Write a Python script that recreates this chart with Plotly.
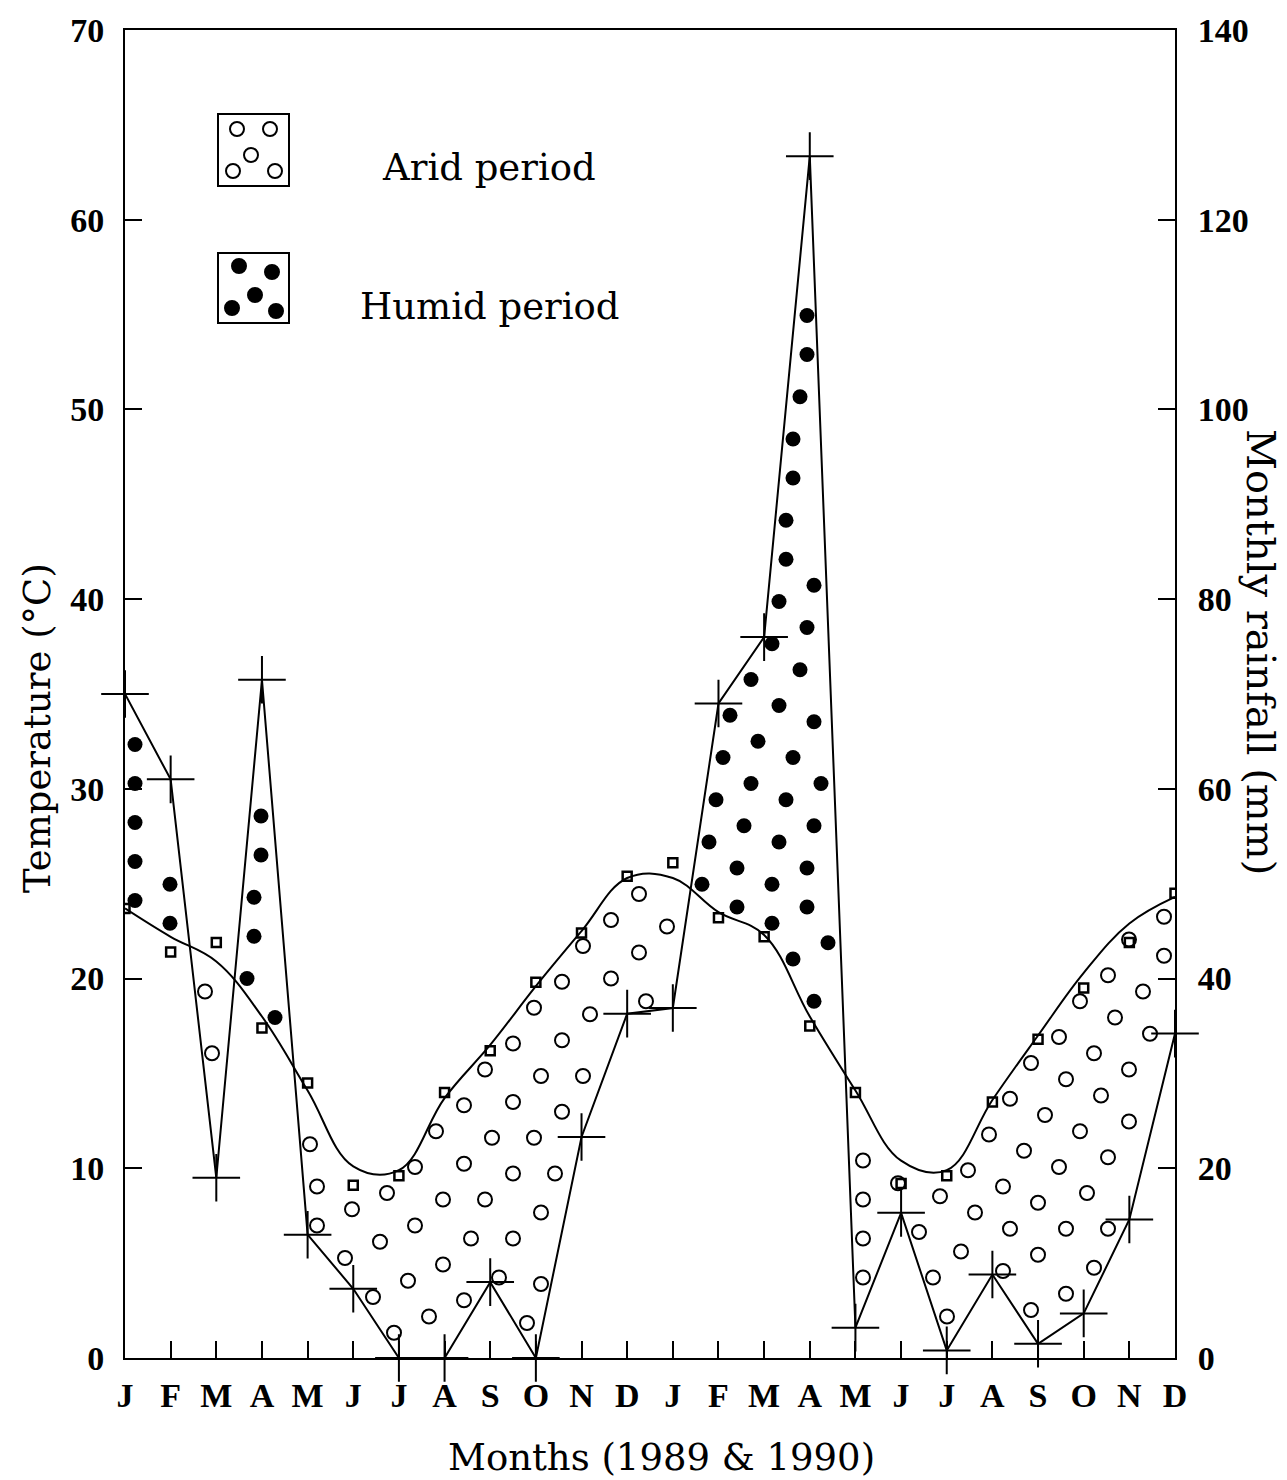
import numpy as np
import plotly.graph_objects as go

# ---------------- data ----------------
months = ["J", "F", "M", "A", "M", "J", "J", "A", "S", "O", "N", "D"] * 2
# monthly mean temperature (deg C), square markers
temp_obs = [23.7, 21.4, 21.9, 17.4, 14.5, 9.1, 9.6, 14.0, 16.2, 19.8, 22.4, 25.4,
            26.1, 23.2, 22.2, 17.5, 14.0, 9.2, 9.6, 13.5, 16.8, 19.5, 21.9, 24.5]
# smoothed temperature curve (deg C) as drawn
temp_curve = [23.7, 22.2, 20.9, 18.0, 14.1, 10.1, 9.9, 13.7, 16.5, 19.6, 22.5, 25.3,
              25.3, 23.5, 22.3, 18.0, 14.1, 10.4, 9.9, 13.6, 17.0, 20.3, 22.9, 24.3]
# monthly rainfall (mm), cross markers
rain = [70.0, 61.0, 19.0, 71.5, 13.0, 7.3, 0.0, 0.0, 8.0, 0.0, 23.3, 36.3,
        36.9, 69.0, 76.0, 126.7, 3.2, 15.3, 0.8, 8.8, 1.5, 4.7, 14.6, 34.2]
temp_ticks = [0, 10, 20, 30, 40, 50, 60, 70]
rain_ticks = [0, 20, 40, 60, 80, 100, 120, 140]

# ---------------- layout geometry ----------------
W, H = 1287, 1480
ML, MR, MT, MB = 125, 112, 30, 122
PW, PH = W - ML - MR, H - MT - MB
xi = np.arange(len(months))
PXX = PW / (len(months) - 1)   # px per month
PXY = PH / 70.0                # px per deg C


def catmull(vals, n=30):
    v = np.asarray(vals, float)
    p = np.concatenate([[2 * v[0] - v[1]], v, [2 * v[-1] - v[-2]]])
    xs, ys = [], []
    for i in range(len(v) - 1):
        p0, p1, p2, p3 = p[i], p[i + 1], p[i + 2], p[i + 3]
        t = np.linspace(0, 1, n, endpoint=False)
        y = 0.5 * ((2 * p1) + (-p0 + p2) * t + (2 * p0 - 5 * p1 + 4 * p2 - p3) * t ** 2
                   + (-p0 + 3 * p1 - 3 * p2 + p3) * t ** 3)
        xs.append(i + t)
        ys.append(y)
    xs.append([len(v) - 1])
    ys.append([v[-1]])
    return np.concatenate(xs), np.concatenate(ys)


# dense boundaries (used only to place the hatching dots between the curves)
cx, cy = catmull(temp_curve)
rx = np.linspace(0, len(months) - 1, 3000)
ry = np.interp(rx, xi, np.asarray(rain) / 2.0)
tpx = np.c_[cx * PXX, cy * PXY]
rpx = np.c_[rx * PXX, ry * PXY]

arid_x, arid_y, hum_x, hum_y = [], [], [], []
accepted = []
SPACING = 37.0
EDGE = 9.5
step_x, step_y = 7.0, 6.5
k = 0
for xp in np.arange(10, PW - 9, step_x):
    x = xp / PXX
    t = np.interp(x, cx, cy)
    r = np.interp(x, xi, np.asarray(rain) / 2.0)
    lo, hi = min(t, r), max(t, r)
    off = (k % 2) * step_y / 2
    k += 1
    for yp in np.arange(9 + off, PH, step_y):
        y = yp / PXY
        if not (lo < y < hi):
            continue
        p = np.array([xp, yp])
        if np.min(np.hypot(*(tpx - p).T)) < EDGE or np.min(np.hypot(*(rpx - p).T)) < EDGE:
            continue
        if accepted:
            a = np.asarray(accepted)
            if np.min(np.hypot(*(a - p).T)) < SPACING:
                continue
        accepted.append((xp, yp))
        if r > t:
            hum_x.append(x); hum_y.append(y)
        else:
            arid_x.append(x); arid_y.append(y)

fig = go.Figure()

fig.add_trace(go.Scatter(x=arid_x, y=arid_y, mode="markers",
                         marker=dict(symbol="circle-open", size=14, color="black",
                                     line=dict(width=2, color="black")),
                         showlegend=False, hoverinfo="skip"))
fig.add_trace(go.Scatter(x=hum_x, y=hum_y, mode="markers",
                         marker=dict(symbol="circle", size=15, color="black"),
                         showlegend=False, hoverinfo="skip"))

fig.add_trace(go.Scatter(x=xi, y=temp_curve, mode="lines",
                         line=dict(color="black", width=2, shape="spline", smoothing=1.1),
                         showlegend=False, hoverinfo="skip"))
fig.add_trace(go.Scatter(x=xi, y=temp_obs, mode="markers",
                         marker=dict(symbol="square-open", size=9, color="black",
                                     line=dict(width=2.5, color="black")),
                         showlegend=False, name="Temperature"))
fig.add_trace(go.Scatter(x=xi, y=rain, mode="lines+markers", yaxis="y2",
                         line=dict(color="black", width=2),
                         marker=dict(symbol="cross-thin", size=34,
                                     line=dict(width=2, color="black")),
                         cliponaxis=False, showlegend=False, name="Rainfall"))

tickfont = dict(family="Liberation Serif", size=34, color="black")
titlefont = dict(family="DejaVu Serif", size=37, color="black")

fig.update_layout(
    width=W, height=H,
    margin=dict(l=ML, r=MR, t=MT, b=MB),
    paper_bgcolor="white", plot_bgcolor="white",
    xaxis=dict(range=[0, len(months) - 1], tickmode="array", tickvals=list(xi),
               ticktext=[f"<b>{m}</b>" for m in months], ticks="inside", ticklen=17,
               tickwidth=2, tickcolor="black", showline=True, linecolor="black",
               linewidth=2, mirror=True, showgrid=False, zeroline=False,
               tickfont=tickfont, ticklabelstandoff=6),
    yaxis=dict(range=[0, 70], tickmode="array", tickvals=temp_ticks,
               ticktext=[f"<b>{v}</b>" for v in temp_ticks], ticks="inside", ticklen=17,
               tickwidth=2, tickcolor="black", showline=True, linecolor="black",
               linewidth=2, mirror=False, showgrid=False, zeroline=False,
               tickfont=tickfont, ticklabelstandoff=12),
    yaxis2=dict(range=[0, 140], overlaying="y", side="right", tickmode="array",
                tickvals=rain_ticks, ticktext=[f"<b>{v}</b>" for v in rain_ticks],
                ticks="inside", ticklen=17, tickwidth=2, tickcolor="black",
                showline=True, linecolor="black", linewidth=2, showgrid=False,
                zeroline=False, tickfont=tickfont, ticklabelstandoff=14),
)

# axis titles
fig.add_annotation(text="Months (1989 & 1990)", xref="paper", yref="paper",
                   x=0.5105, y=-0.075, showarrow=False, font=titlefont,
                   xanchor="center", yanchor="middle")
fig.add_annotation(text="Temperature (°C)", xref="paper", yref="paper",
                   x=(37 - ML) / PW, y=(1358 - 728) / PH, textangle=-90,
                   showarrow=False, font=titlefont, xanchor="center", yanchor="middle")
fig.add_annotation(text="Monthly rainfall (mm)", xref="paper", yref="paper",
                   x=(1261 - ML) / PW, y=(1358 - 652) / PH, textangle=90,
                   showarrow=False, font=dict(family="DejaVu Serif", size=40, color="black"),
                   xanchor="center", yanchor="middle")

# legend boxes
def px2paper(px, py):
    return (px - ML) / PW, (MT + PH - py) / PH

legend_items = [
    ("Arid period", 114, 186, 380, 168, False,
     [(237, 129), (270, 129), (251, 155), (233, 171), (275, 171)]),
    ("Humid period", 253, 323, 358, 306, True,
     [(239, 266), (272, 272), (255, 295), (232, 308), (276, 311)]),
]
for label, by0, by1, tx, ty, filled, dots in legend_items:
    x0, y0 = px2paper(218, by1)
    x1, y1 = px2paper(289, by0)
    fig.add_shape(type="rect", xref="paper", yref="paper", x0=x0, y0=y0, x1=x1, y1=y1,
                  line=dict(color="black", width=2), fillcolor="white")
    for (dxp, dyp) in dots:
        a0, b0 = px2paper(dxp - 7, dyp + 7)
        a1, b1 = px2paper(dxp + 7, dyp - 7)
        fig.add_shape(type="circle", xref="paper", yref="paper", x0=a0, y0=b0, x1=a1, y1=b1,
                      line=dict(color="black", width=2),
                      fillcolor="black" if filled else "white")
    ax, ay = px2paper(tx, ty)
    fig.add_annotation(text=label, xref="paper", yref="paper", x=ax, y=ay,
                       showarrow=False, font=titlefont, xanchor="left", yanchor="middle")

fig.write_html("out.html")
